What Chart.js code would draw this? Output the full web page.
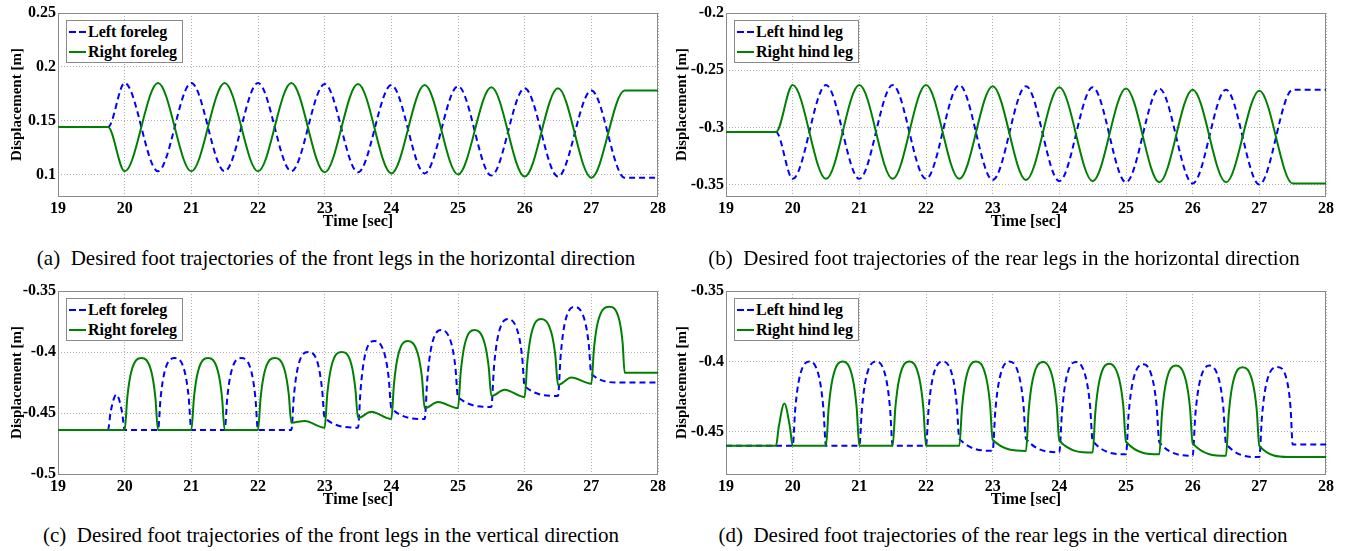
<!DOCTYPE html>
<html>
<head>
<meta charset="utf-8">
<script src="https://cdn.jsdelivr.net/npm/chart.js@4.4.1/dist/chart.umd.min.js"></script>
<style>
  body { margin: 0; background: #fff; width: 1348px; height: 551px; position: relative; overflow: hidden; }
  canvas { position: absolute; }
  .caption { position: absolute; font-family: "Liberation Serif", "Times New Roman", serif; font-size: 21px; line-height: 24px; color: #000; white-space: pre; transform: translateX(-50%); }
  .legend { position: absolute; background: #fff; border: 1px solid #8a8a8a; padding: 1px 5px 1px 2px; font-family: "Liberation Serif", "Times New Roman", serif; font-weight: bold; font-size: 16px; color: #000; }
  .legend .row { height: 19.5px; line-height: 19.5px; white-space: nowrap; }
  .legend .swatch { display: inline-block; width: 17px; height: 2px; vertical-align: middle; margin-right: 2px; position: relative; top: -1px; }
</style>
</head>
<body>
<canvas id="chartA" width="670" height="232" style="left:0;top:0"></canvas>
<canvas id="chartB" width="680" height="232" style="left:668px;top:0"></canvas>
<canvas id="chartC" width="670" height="232" style="left:0;top:278px"></canvas>
<canvas id="chartD" width="680" height="232" style="left:668px;top:278px"></canvas>

<div class="caption" style="left:336px;top:246px">(a)  Desired foot trajectories of the front legs in the horizontal direction</div>
<div class="caption" style="left:1004px;top:246px">(b)  Desired foot trajectories of the rear legs in the horizontal direction</div>
<div class="caption" style="left:331px;top:523px">(c)  Desired foot trajectories of the front legs in the vertical direction</div>
<div class="caption" style="left:1003px;top:523px">(d)  Desired foot trajectories of the rear legs in the vertical direction</div>

<script>
// time axis
const xTicks = [19, 20, 21, 22, 23, 24, 25, 26, 27, 28];

// (a) front legs, horizontal  [time, displacement]
const aYTicks = [0.1, 0.15, 0.2, 0.25];
const aLeftForeleg = [[19,0.144],[19.75,0.144],[20,0.185],[20.5,0.103],[21,0.185],[21.5,0.103],[22,0.185],[22.5,0.103],
  [23,0.184],[23.5,0.102],[24,0.183],[24.5,0.101],[25,0.182],[25.5,0.099],[26,0.180],[26.5,0.098],[27,0.178],[27.5,0.097],[28,0.097]];
const aRightForeleg = [[19,0.144],[19.75,0.144],[20,0.103],[20.5,0.185],[21,0.103],[21.5,0.185],[22,0.103],[22.5,0.185],
  [23,0.102],[23.5,0.184],[24,0.101],[24.5,0.183],[25,0.100],[25.5,0.181],[26,0.098],[26.5,0.180],[27,0.097],[27.5,0.178],[28,0.178]];

// (b) rear legs, horizontal
const bYTicks = [-0.35, -0.3, -0.25, -0.2];
const bLeftHind = [[19,-0.304],[19.75,-0.304],[20,-0.345],[20.5,-0.263],[21,-0.345],[21.5,-0.263],[22,-0.345],[22.5,-0.263],
  [23,-0.346],[23.5,-0.264],[24,-0.347],[24.5,-0.265],[25,-0.348],[25.5,-0.266],[26,-0.349],[26.5,-0.267],[27,-0.350],[27.5,-0.267],[28,-0.267]];
const bRightHind = [[19,-0.304],[19.75,-0.304],[20,-0.263],[20.5,-0.345],[21,-0.263],[21.5,-0.345],[22,-0.263],[22.5,-0.345],
  [23,-0.264],[23.5,-0.346],[24,-0.265],[24.5,-0.347],[25,-0.266],[25.5,-0.348],[26,-0.267],[26.5,-0.348],[27,-0.268],[27.5,-0.349],[28,-0.349]];

// (c) front legs, vertical
const cYTicks = [-0.5, -0.45, -0.4, -0.35];
const cLeftForeleg = [[19,-0.464],[19.75,-0.464],[19.79,-0.449],[19.875,-0.435],[19.96,-0.449],[20,-0.464],
  [20.5,-0.464],[20.54,-0.437],[20.6,-0.416],[20.75,-0.405],[20.9,-0.416],[20.96,-0.437],[21,-0.464],
  [21.5,-0.464],[21.54,-0.437],[21.6,-0.416],[21.75,-0.405],[21.9,-0.416],[21.96,-0.437],[22,-0.464],
  [22.5,-0.464],[22.54,-0.435],[22.6,-0.412],[22.75,-0.400],[22.9,-0.410],[22.96,-0.430],[23,-0.454],
  [23.5,-0.462],[23.54,-0.430],[23.6,-0.404],[23.75,-0.391],[23.9,-0.402],[23.96,-0.421],[24,-0.446],
  [24.5,-0.455],[24.54,-0.422],[24.6,-0.396],[24.75,-0.382],[24.9,-0.393],[24.96,-0.412],[25,-0.437],
  [25.5,-0.445],[25.54,-0.412],[25.6,-0.387],[25.75,-0.373],[25.9,-0.384],[25.96,-0.403],[26,-0.428],
  [26.5,-0.436],[26.54,-0.403],[26.6,-0.377],[26.75,-0.363],[26.9,-0.374],[26.96,-0.393],[27,-0.418],
  [27.42,-0.425],[28,-0.425]];
const cRightForeleg = [[19,-0.464],[20,-0.464],[20.04,-0.437],[20.1,-0.416],[20.25,-0.405],[20.4,-0.416],[20.46,-0.437],[20.5,-0.464],
  [21,-0.464],[21.04,-0.437],[21.1,-0.416],[21.25,-0.405],[21.4,-0.416],[21.46,-0.437],[21.5,-0.464],
  [22,-0.464],[22.04,-0.437],[22.1,-0.416],[22.25,-0.405],[22.4,-0.415],[22.46,-0.434],[22.5,-0.458],
  [22.7,-0.4565],[23,-0.462],[23.04,-0.434],[23.1,-0.412],[23.25,-0.400],[23.4,-0.410],[23.46,-0.430],[23.5,-0.454],
  [23.7,-0.449],[24,-0.455],[24.04,-0.426],[24.1,-0.403],[24.25,-0.391],[24.4,-0.402],[24.46,-0.421],[24.5,-0.446],
  [24.7,-0.441],[25,-0.446],[25.04,-0.417],[25.1,-0.394],[25.25,-0.382],[25.4,-0.393],[25.46,-0.412],[25.5,-0.436],
  [25.7,-0.431],[26,-0.437],[26.04,-0.408],[26.1,-0.385],[26.25,-0.373],[26.4,-0.384],[26.46,-0.403],[26.5,-0.427],
  [26.7,-0.421],[27,-0.426],[27.04,-0.397],[27.1,-0.375],[27.27,-0.363],[27.42,-0.374],[27.47,-0.393],[27.5,-0.417],
  [28,-0.417]];

// (d) rear legs, vertical
const dYTicks = [-0.45, -0.4, -0.35];
const dLeftHind = [[19,-0.46],[20,-0.46],[20.04,-0.433],[20.1,-0.412],[20.25,-0.400],[20.4,-0.412],[20.46,-0.433],[20.5,-0.46],
  [21,-0.46],[21.04,-0.433],[21.1,-0.412],[21.25,-0.400],[21.4,-0.412],[21.46,-0.433],[21.5,-0.46],
  [22,-0.46],[22.04,-0.433],[22.1,-0.412],[22.25,-0.400],[22.4,-0.411],[22.46,-0.430],[22.5,-0.455],
  [23,-0.4635],[23.04,-0.435],[23.1,-0.413],[23.25,-0.400],[23.4,-0.411],[23.46,-0.430],[23.5,-0.455],
  [24,-0.4645],[24.04,-0.436],[24.1,-0.413],[24.25,-0.4005],[24.4,-0.412],[24.46,-0.431],[24.5,-0.4565],
  [25,-0.466],[25.04,-0.437],[25.1,-0.415],[25.26,-0.402],[25.4,-0.413],[25.46,-0.432],[25.5,-0.4575],
  [26,-0.467],[26.04,-0.438],[26.1,-0.416],[26.25,-0.403],[26.4,-0.414],[26.46,-0.433],[26.5,-0.4585],
  [27,-0.468],[27.04,-0.439],[27.1,-0.417],[27.27,-0.404],[27.42,-0.415],[27.47,-0.434],[27.5,-0.459],
  [28,-0.459]];
const dRightHind = [[19,-0.46],[19.75,-0.46],[19.79,-0.447],[19.875,-0.430],[19.96,-0.447],[20,-0.46],
  [20.5,-0.46],[20.54,-0.433],[20.6,-0.412],[20.75,-0.400],[20.9,-0.412],[20.96,-0.433],[21,-0.46],
  [21.5,-0.46],[21.54,-0.433],[21.6,-0.412],[21.75,-0.400],[21.9,-0.412],[21.96,-0.433],[22,-0.46],
  [22.5,-0.46],[22.54,-0.433],[22.6,-0.412],[22.75,-0.400],[22.9,-0.411],[22.96,-0.430],[23,-0.4557],
  [23.5,-0.4636],[23.54,-0.435],[23.6,-0.413],[23.76,-0.4005],[23.9,-0.412],[23.96,-0.431],[24,-0.4564],
  [24.5,-0.4648],[24.54,-0.436],[24.6,-0.414],[24.75,-0.4016],[24.9,-0.413],[24.96,-0.432],[25,-0.4571],
  [25.5,-0.466],[25.54,-0.437],[25.6,-0.415],[25.75,-0.403],[25.9,-0.414],[25.96,-0.433],[26,-0.4583],
  [26.5,-0.4671],[26.54,-0.438],[26.6,-0.416],[26.75,-0.4041],[26.9,-0.415],[26.96,-0.434],[27,-0.46],
  [27.44,-0.4679],[28,-0.468]];

const BLUE = "#0000ff";
const GREEN = "#008000";
const FONT = "'Liberation Serif', 'Times New Roman', serif";

// draws the grey box round the plot area
const framePlugin = {
  id: "frame",
  beforeDatasetsDraw(chart) {
    const a = chart.chartArea;
    const ctx = chart.ctx;
    ctx.save();
    ctx.strokeStyle = "#8a8a8a";
    ctx.lineWidth = 1;
    ctx.strokeRect(Math.round(a.left) + 0.5, Math.round(a.top) + 0.5, Math.round(a.right - a.left) - 1, Math.round(a.bottom - a.top));
    ctx.restore();
  }
};

function makeChart(id, series, yMin, yMax, yTicks, opt) {
  const datasets = series.map(s => ({
    label: s.label,
    data: s.points.map(p => ({ x: p[0], y: p[1] })),
    borderColor: s.color,
    borderWidth: 2,
    borderDash: s.dash ? [6, 4] : [],
    pointRadius: 0,
    fill: false,
    cubicInterpolationMode: "monotone",
    order: s.dash ? 1 : 0
  }));

  new Chart(document.getElementById(id), {
    type: "line",
    data: { datasets: datasets },
    options: {
      responsive: false,
      animation: false,
      layout: { padding: { top: 13, right: opt.right, left: 0, bottom: 0 } },
      plugins: { legend: { display: false }, tooltip: { enabled: false } },
      scales: {
        x: {
          type: "linear",
          min: 19,
          max: 28,
          afterBuildTicks: s => { s.ticks = xTicks.map(v => ({ value: v })); },
          afterFit: s => { s.height = 36; },
          grid: { color: "#b0b0b0", drawTicks: false },
          border: { display: false, dash: [1, 2] },
          ticks: { padding: 3, color: "#000", autoSkip: false, maxRotation: 0,
                   font: { family: FONT, size: 16, weight: "bold" }, callback: v => String(v) },
          title: { display: true, text: "Time [sec]", color: "#000",
                   font: { family: FONT, size: 16, weight: "bold" }, padding: { top: 0, bottom: 1 } }
        },
        y: {
          type: "linear",
          min: yMin,
          max: yMax,
          afterBuildTicks: s => { s.ticks = yTicks.map(v => ({ value: v })); },
          afterFit: s => { s.width = 58; },
          grid: { color: "#b0b0b0", drawTicks: false },
          border: { display: false, dash: [1, 2] },
          ticks: { padding: 2, color: "#000", font: { family: FONT, size: 16, weight: "bold" }, callback: v => String(v) },
          title: { display: true, text: "Displacement [m]", color: "#000",
                   font: { family: FONT, size: 15, weight: "bold" }, padding: { top: opt.titlePad, bottom: 0 } }
        }
      }
    },
    plugins: [framePlugin]
  });

  // legend box inside the plot, top-left
  const box = document.createElement("div");
  box.className = "legend";
  box.style.left = opt.legendLeft + "px";
  box.style.top = opt.legendTop + "px";
  series.forEach(s => {
    const row = document.createElement("div");
    row.className = "row";
    const sw = document.createElement("span");
    sw.className = "swatch";
    sw.style.background = s.dash
      ? "repeating-linear-gradient(to right, " + s.color + " 0 7px, transparent 7px 10px)"
      : s.color;
    row.appendChild(sw);
    row.appendChild(document.createTextNode(s.label));
    box.appendChild(row);
  });
  document.body.appendChild(box);
}

makeChart("chartA", [
  { label: "Left foreleg", points: aLeftForeleg, color: BLUE, dash: true },
  { label: "Right foreleg", points: aRightForeleg, color: GREEN, dash: false }
], 0.08, 0.25, aYTicks, { right: 12, titlePad: 8, legendLeft: 66, legendTop: 20 });

makeChart("chartB", [
  { label: "Left hind leg", points: bLeftHind, color: BLUE, dash: true },
  { label: "Right hind leg", points: bRightHind, color: GREEN, dash: false }
], -0.36, -0.2, bYTicks, { right: 22, titlePad: 5, legendLeft: 734, legendTop: 20 });

makeChart("chartC", [
  { label: "Left foreleg", points: cLeftForeleg, color: BLUE, dash: true },
  { label: "Right foreleg", points: cRightForeleg, color: GREEN, dash: false }
], -0.5, -0.35, cYTicks, { right: 12, titlePad: 8, legendLeft: 66, legendTop: 298 });

makeChart("chartD", [
  { label: "Left hind leg", points: dLeftHind, color: BLUE, dash: true },
  { label: "Right hind leg", points: dRightHind, color: GREEN, dash: false }
], -0.48, -0.35, dYTicks, { right: 22, titlePad: 5, legendLeft: 734, legendTop: 298 });
</script>
</body>
</html>
